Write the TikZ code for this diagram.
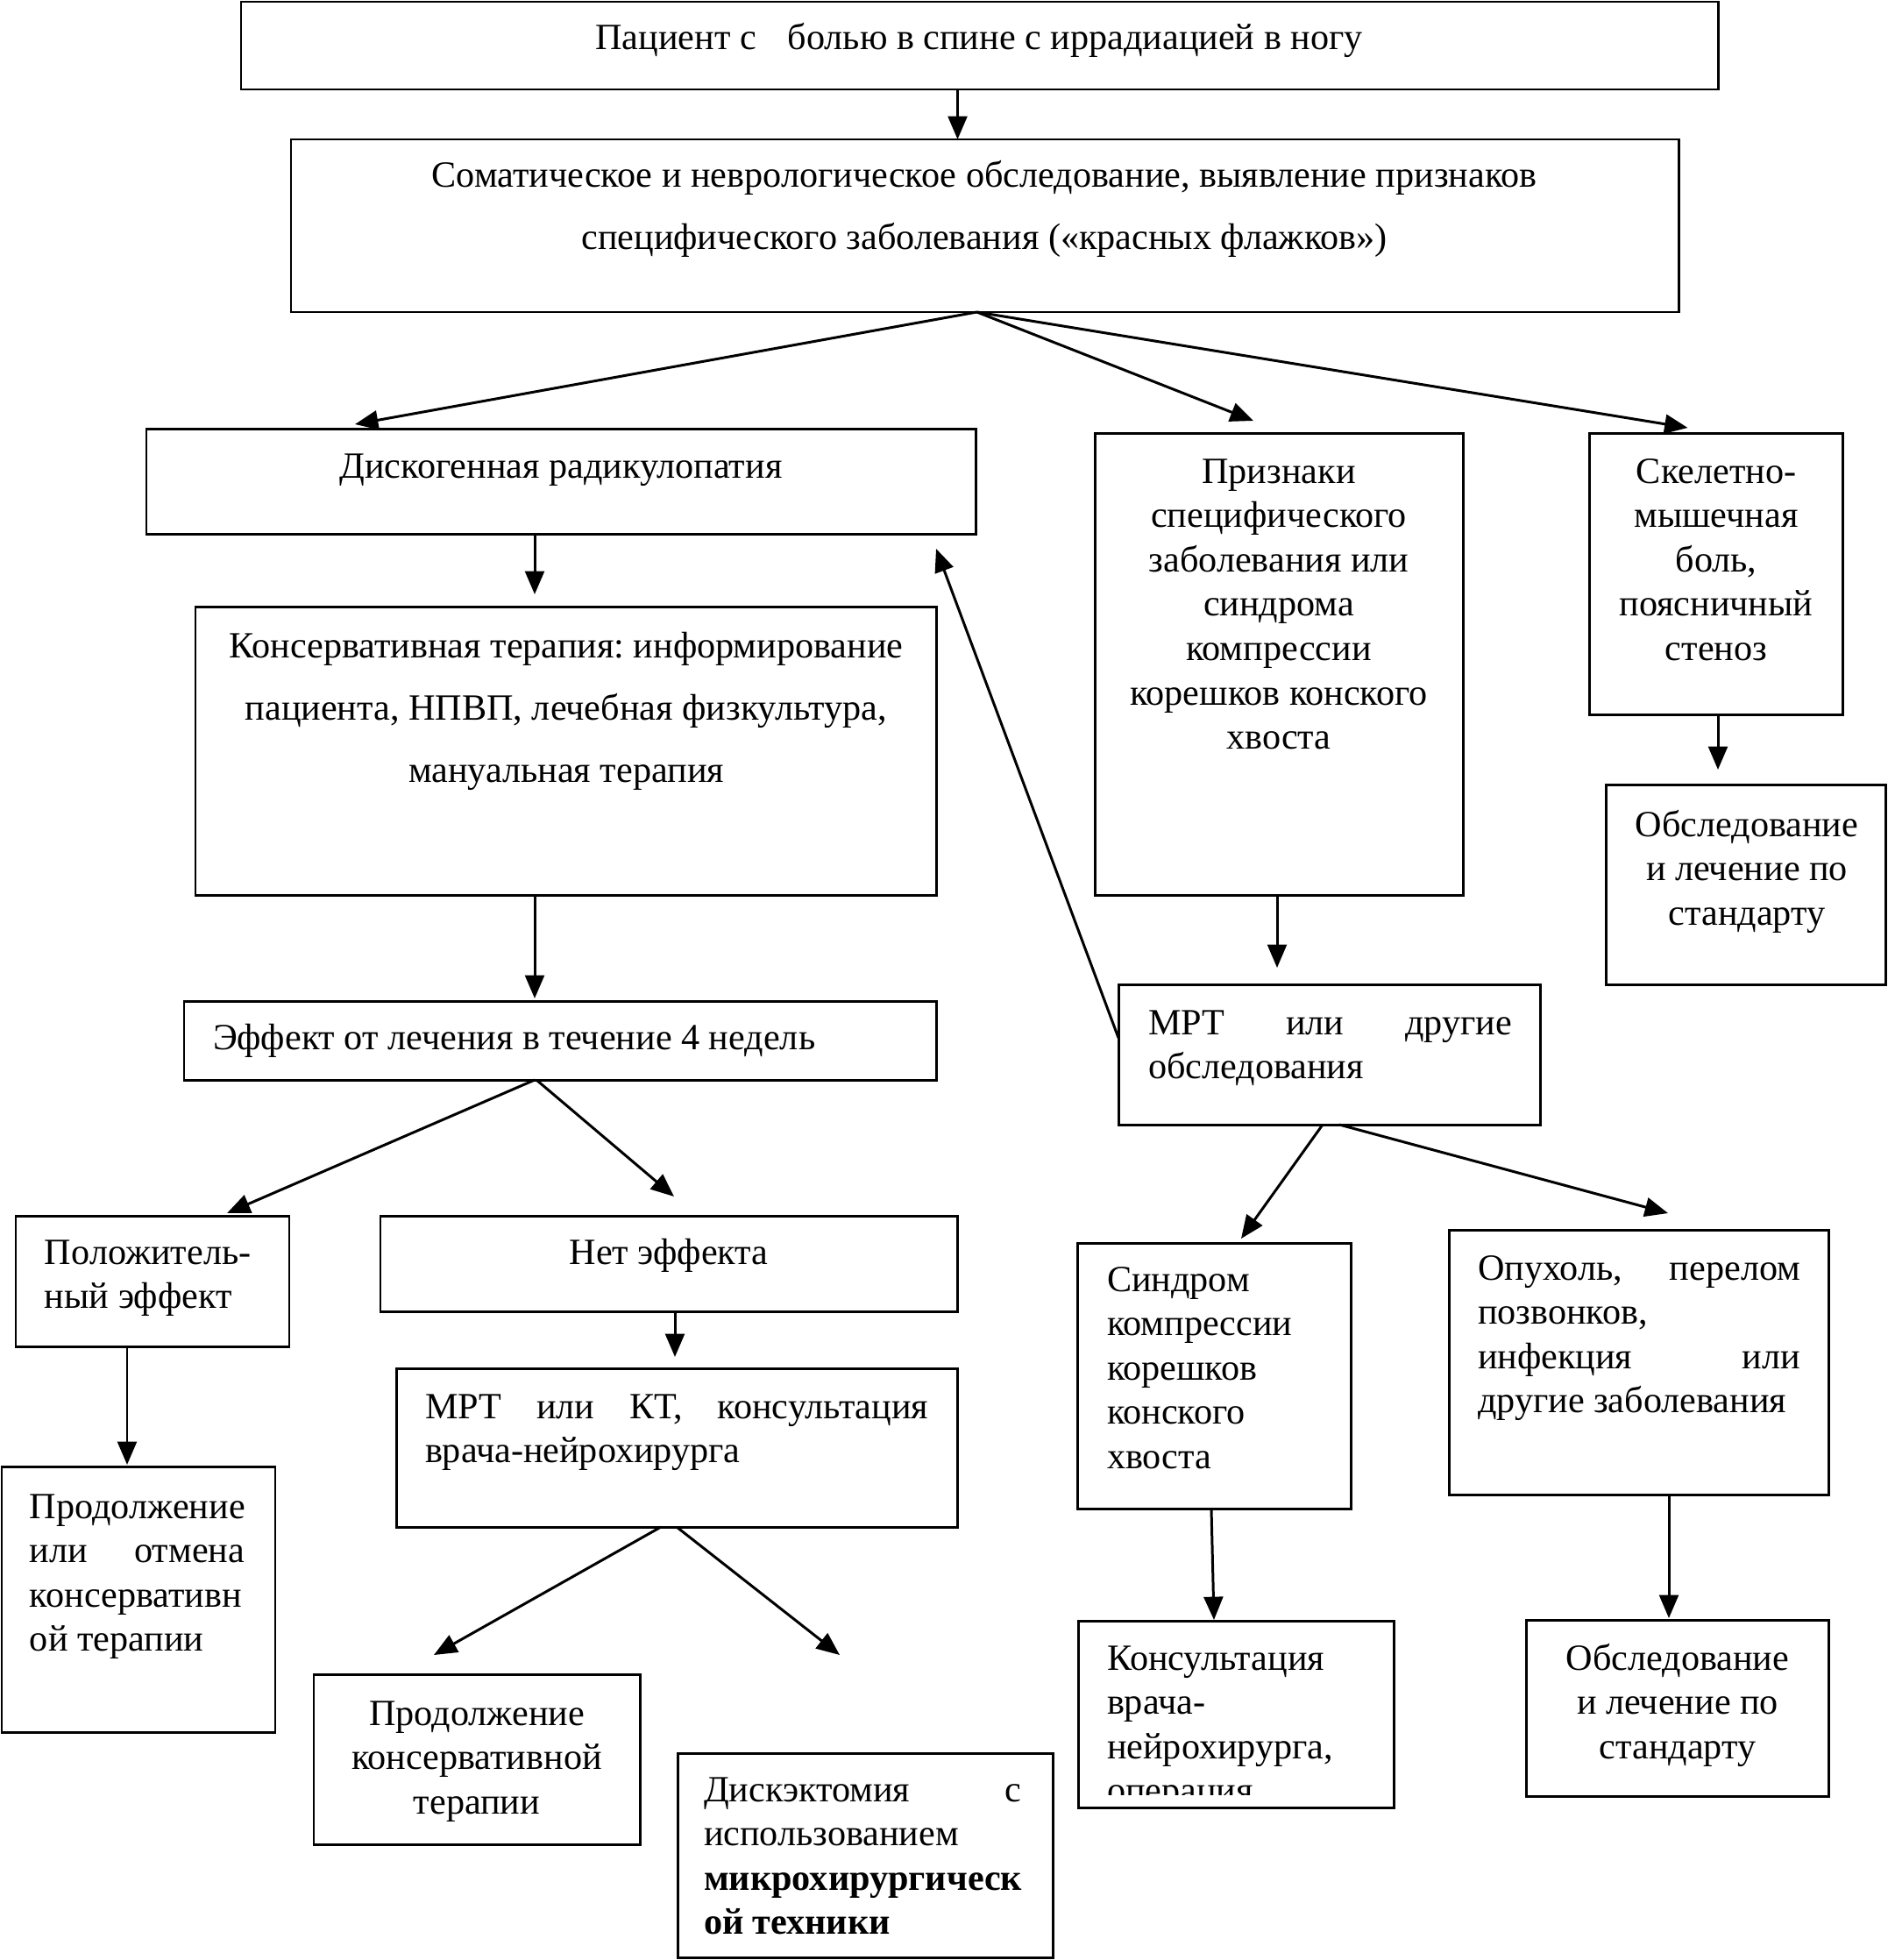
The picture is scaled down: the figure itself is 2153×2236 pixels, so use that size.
\documentclass[tikz,border=0pt]{standalone}
\usepackage{fontspec}
\setmainfont{Liberation Serif}
\frenchspacing
\usetikzlibrary{arrows.meta,calc}
\tikzset{
  box/.style={draw, line width=0.85pt, rectangle, inner sep=0pt, outer sep=0pt, anchor=north west},
  txt/.style={inner sep=0pt, outer sep=0pt, font=\fontsize{12}{14.4}\selectfont\frenchspacing},
  widetxt/.style={inner sep=0pt, outer sep=0pt, font=\fontsize{12}{20.3}\selectfont\frenchspacing},
  arr/.style={line width=0.85pt, -{Triangle[length=7.5pt,width=6.2pt]}},
}
\newcommand\flbox[5]{\node[box, minimum width={(#4-#2)*0.01cm}, minimum height={(#5-#3)*0.01cm}] (#1) at (#2,#3) {};}
\begin{document}
\begin{tikzpicture}[x=0.01cm, y=-0.01cm]
\useasboundingbox (0,0) rectangle (2153,2236);
% boxes
\flbox{b1}{275}{2}{1960}{102}
\flbox{b2}{332}{159}{1915}{356}
\flbox{b3}{167}{489}{1113}{609}
\flbox{b4}{223}{692}{1068}{1021}
\flbox{b5}{210}{1142}{1068}{1232}
\flbox{b6}{18}{1387}{330}{1536}
\flbox{b7}{2}{1673}{314}{1976}
\flbox{b8}{434}{1387}{1092}{1496}
\flbox{b9}{452}{1561}{1092}{1742}
\flbox{b10}{358}{1910}{730}{2104}
\flbox{b11}{773}{2000}{1201}{2233}
\flbox{b12}{1249}{494}{1669}{1021}
\flbox{b13}{1813}{494}{2102}{815}
\flbox{b14}{1832}{895}{2151}{1123}
\flbox{b15}{1276}{1123}{1757}{1283}
\flbox{b16}{1229}{1418}{1541}{1721}
\flbox{b17}{1230}{1849}{1590}{2062}
\flbox{b18}{1653}{1403}{2086}{1705}
\flbox{b19}{1741}{1848}{2086}{2049}
% texts
\node[txt, anchor=base] (t1) at (1117,57) {Пациент с\hspace{0.36cm}болью в спине с иррадиацией в ногу};
\node[widetxt, anchor=base, align=flush center, text width=15.5cm] (t2) at (1123,213) {Соматическое и неврологическое обследование, выявление признаков\\специфического заболевания («красных флажков»)};
\node[txt, anchor=base] (t3) at (640,545) {Дискогенная радикулопатия};
\node[widetxt, anchor=base, align=flush center, text width=8.2cm] (t4) at (646,750) {Консервативная терапия: информирование\\пациента, НПВП, лечебная физкультура,\\мануальная терапия};
\node[txt, anchor=base west] (t5) at (243,1197) {Эффект от лечения в течение 4 недель};
\node[txt, anchor=base west, align=flush left, text width=2.7cm] (t6) at (51,1442) {Положитель-\\ный эффект};
\node[txt, anchor=base west, align=flush left, text width=2.45cm] (t7) at (34,1732) {Продолжение\\или\hfill отмена\\консервативн\\ой терапии};
\node[txt, anchor=base] (t8) at (763,1442) {Нет эффекта};
\node[txt, anchor=base west, align=flush left, text width=5.74cm] (t9) at (485,1618) {МРТ\hfill или\hfill КТ,\hfill консультация\\врача-нейрохирурга};
\node[txt, anchor=base, align=flush center, text width=3.6cm] (t10) at (544,1968) {Продолжение\\консервативной\\терапии};
\node[txt, anchor=base west, align=flush left, text width=3.62cm] (t11) at (803,2055) {Дискэктомия\hfill с\\использованием\\\textbf{микрохирургическ}\\\textbf{ой техники}};
\node[txt, anchor=base, align=flush center, text width=4cm] (t12) at (1459,551) {Признаки\\специфического\\заболевания или\\синдрома\\компрессии\\корешков конского\\хвоста};
\node[txt, anchor=base, align=flush center, text width=2.8cm] (t13) at (1958,551) {Скелетно-\\мышечная\\боль,\\поясничный\\стеноз};
\node[txt, anchor=base, align=flush center, text width=3cm] (t14) at (1993,954) {Обследование\\и лечение по\\стандарту};
\node[txt, anchor=base west, align=flush left, text width=4.15cm] (t15) at (1310,1180) {МРТ\hfill или\hfill другие\\обследования};
\node[txt, anchor=base west, align=flush left, text width=2.7cm] (t16) at (1263,1473) {Синдром\\компрессии\\корешков\\конского\\хвоста};
\begin{scope}
\clip (1232,1851) rectangle (1588,2047);
\node[txt, anchor=base west, align=flush left, text width=3.1cm] (t17) at (1263,1905) {Консультация\\врача-\\нейрохирурга,\\операция};
\end{scope}
\node[txt, anchor=base west, align=flush left, text width=3.68cm] (t18) at (1686,1460) {Опухоль,\hfill перелом\\позвонков,\\инфекция\hfill или\\другие заболевания};
\node[txt, anchor=base, align=flush center, text width=3.2cm] (t19) at (1914,1905) {Обследование\\и лечение по\\стандарту};
% connectors
\draw[arr] ($(b1.south)+(-25,0)$) -- ($(b2.north)+(-31,0)$);
\draw[arr] ($(b2.south)+(-9,0)$) -- ($(b3.north)+(-235,-5)$);
\draw[arr] ($(b2.south)+(-9,0)$) -- ($(b12.north)+(-29,-14)$);
\draw[arr] ($(b2.south)+(-9,0)$) -- ($(b13.north)+(-32,-6)$);
\draw[arr] ($(b3.south)+(-30,0)$) -- ($(b4.north)+(-35.5,-14)$);
\draw[arr] ($(b4.south)+(-35.5,0)$) -- ($(b5.north)+(-29,-3)$);
\draw[arr] ($(b5.south)+(-29,0)$) -- ($(b6.north)+(85,-3)$);
\draw[arr] ($(b5.south)+(-27,0)$) -- ($(b8.north)+(6,-22)$);
\draw[arr] ($(b6.south)+(-29,0)$) -- ($(b7.north)+(-13,-2)$);
\draw[arr] ($(b8.south)+(7,0)$) -- ($(b9.north)+(-2,-13)$);
\draw[arr] ($(b9.south)+(-18,0)$) -- ($(b10.north)+(-49,-22)$);
\draw[arr] (b9.south) -- ($(b11.north)+(-29,-112)$);
\draw[arr] ($(b12.south)+(-2,0)$) -- ($(b15.north)+(-59.5,-19)$);
\draw[arr] ($(b13.south)+(2.5,0)$) -- ($(b14.north)+(-31.5,-17)$);
\draw[arr] ($(b15.west)+(0,-19)$) -- ($(b3.south east)+(-45,17)$);
\draw[arr] ($(b15.south)+(-7.5,0)$) -- ($(b16.north)+(31,-5)$);
\draw[arr] ($(b15.south)+(11.5,0)$) -- ($(b18.north)+(33.5,-19)$);
\draw[arr] ($(b16.south)+(-3,0)$) -- ($(b17.north)+(-25,-1)$);
\draw[arr] ($(b18.south)+(34.5,0)$) -- ($(b19.north)+(-9.5,-2)$);
\end{tikzpicture}
\end{document}
